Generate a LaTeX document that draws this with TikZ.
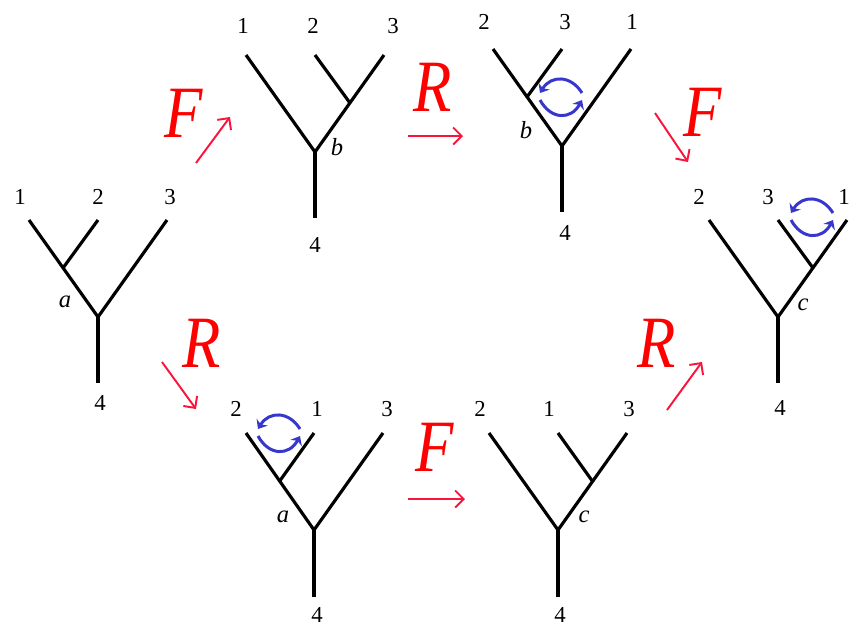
\documentclass[tikz,border=0pt]{standalone}
\usepackage{fontspec}
\setmainfont{Liberation Serif}
\usetikzlibrary{arrows.meta}
\definecolor{swapblue}{RGB}{55,55,205}
\definecolor{oparrow}{RGB}{250,20,60}
\begin{document}
\begin{tikzpicture}[x=0.02cm, y=-0.02cm,
  edge/.style={line width=1.8pt},
  leaf/.style={inner sep=0pt, font=\fontsize{13}{15}\selectfont},
  vtx/.style={inner sep=0pt, font=\fontsize{14}{16}\selectfont\itshape},
  op/.style={inner sep=0pt, text=red, font=\fontsize{42}{44}\selectfont\itshape},
  oparr/.style={draw=oparrow, line width=1.1pt, -{Straight Barb[length=1.7mm,width=3.4mm]}},
  swaparr/.style={draw=swapblue, line width=1.7pt, -{Stealth[length=1.6mm,width=2.6mm]}},
  pics/swap/.style={code={
    \draw[swaparr] (21,-4) .. controls (10,-22) and (-10,-22) .. (-21,-4);
    \draw[swaparr] (-21,3) .. controls (-10,23) and (10,23) .. (21,3);
  }}
]
\useasboundingbox (0,0) rectangle (850,626);

% tree a (left)
\coordinate (t1r) at (98,317);
\coordinate (t1b) at (98,383);
\coordinate (t1i) at (63,268);
\coordinate (t1x) at (29,220);
\coordinate (t1y) at (98,220);
\coordinate (t1z) at (167,220);
\draw[edge] (t1x) -- (t1r) -- (t1z);
\draw[edge] (t1r) -- (t1b);
\draw[edge] (t1i) -- (t1y);
\node[leaf] (t1n1) at (20,197) {1};
\node[leaf] (t1n2) at (98,197) {2};
\node[leaf] (t1n3) at (170,197) {3};
\node[leaf] (t1n4) at (100,403) {4};
\node[vtx] (t1v) at (65,302) {a};

% tree b (top middle)
\coordinate (t2r) at (315,152);
\coordinate (t2b) at (315,218);
\coordinate (t2i) at (350,103);
\coordinate (t2x) at (246,55);
\coordinate (t2y) at (315,55);
\coordinate (t2z) at (384,55);
\draw[edge] (t2x) -- (t2r) -- (t2z);
\draw[edge] (t2r) -- (t2b);
\draw[edge] (t2i) -- (t2y);
\node[leaf] (t2n1) at (243,26) {1};
\node[leaf] (t2n2) at (313,26) {2};
\node[leaf] (t2n3) at (393,26) {3};
\node[leaf] (t2n4) at (315,245) {4};
\node[vtx] (t2v) at (337,147) {b};

% tree b swapped (top right)
\coordinate (t3r) at (562,146);
\coordinate (t3b) at (562,212);
\coordinate (t3i) at (527,97);
\coordinate (t3x) at (493,49);
\coordinate (t3y) at (562,49);
\coordinate (t3z) at (631,49);
\draw[edge] (t3x) -- (t3r) -- (t3z);
\draw[edge] (t3r) -- (t3b);
\draw[edge] (t3i) -- (t3y);
\node[leaf] (t3n2) at (484,22) {2};
\node[leaf] (t3n3) at (565,22) {3};
\node[leaf] (t3n1) at (632,22) {1};
\node[leaf] (t3n4) at (565,233) {4};
\node[vtx] (t3v) at (526,130) {b};
\pic at (561,97) {swap};

% tree c (right)
\coordinate (t4r) at (778,317);
\coordinate (t4b) at (778,383);
\coordinate (t4i) at (813,268);
\coordinate (t4x) at (709,220);
\coordinate (t4y) at (778,220);
\coordinate (t4z) at (847,220);
\draw[edge] (t4x) -- (t4r) -- (t4z);
\draw[edge] (t4r) -- (t4b);
\draw[edge] (t4i) -- (t4y);
\node[leaf] (t4n2) at (699,197) {2};
\node[leaf] (t4n3) at (768,197) {3};
\node[leaf] (t4n1) at (844,197) {1};
\node[leaf] (t4n4) at (780,408) {4};
\node[vtx] (t4v) at (803,305) {c};
\pic at (812,217) {swap};

% tree a swapped (bottom left)
\coordinate (t5r) at (314,530);
\coordinate (t5b) at (314,597);
\coordinate (t5i) at (279,482);
\coordinate (t5x) at (246,433);
\coordinate (t5y) at (314,433);
\coordinate (t5z) at (383,433);
\draw[edge] (t5x) -- (t5r) -- (t5z);
\draw[edge] (t5r) -- (t5b);
\draw[edge] (t5i) -- (t5y);
\node[leaf] (t5n2) at (236,409) {2};
\node[leaf] (t5n1) at (317,409) {1};
\node[leaf] (t5n3) at (387,409) {3};
\node[leaf] (t5n4) at (317,615) {4};
\node[vtx] (t5v) at (283,517) {a};
\pic at (279,433) {swap};

% tree c (bottom middle)
\coordinate (t6r) at (558,530);
\coordinate (t6b) at (558,597);
\coordinate (t6i) at (593,482);
\coordinate (t6x) at (489,433);
\coordinate (t6y) at (558,433);
\coordinate (t6z) at (627,433);
\draw[edge] (t6x) -- (t6r) -- (t6z);
\draw[edge] (t6r) -- (t6b);
\draw[edge] (t6i) -- (t6y);
\node[leaf] (t6n2) at (480,409) {2};
\node[leaf] (t6n1) at (549,409) {1};
\node[leaf] (t6n3) at (629,409) {3};
\node[leaf] (t6n4) at (560,615) {4};
\node[vtx] (t6v) at (584,517) {c};

% moves
\node[op] (op1) at (184,113) {\scalebox{0.85}[1]{F}};
\coordinate (op1s) at (196,163);
\coordinate (op1e) at (230,117);
\draw[oparr] (op1s) -- (op1e);

\node[op] (op2) at (433,87) {\scalebox{0.85}[1]{R}};
\coordinate (op2s) at (408,136);
\coordinate (op2e) at (463,136);
\draw[oparr] (op2s) -- (op2e);

\node[op] (op3) at (703,112) {\scalebox{0.85}[1]{F}};
\coordinate (op3s) at (655,113);
\coordinate (op3e) at (688,162);
\draw[oparr] (op3s) -- (op3e);

\node[op] (op4) at (202,343) {\scalebox{0.85}[1]{R}};
\coordinate (op4s) at (162,362);
\coordinate (op4e) at (196,409);
\draw[oparr] (op4s) -- (op4e);

\node[op] (op5) at (435,447) {\scalebox{0.85}[1]{F}};
\coordinate (op5s) at (408,499);
\coordinate (op5e) at (465,499);
\draw[oparr] (op5s) -- (op5e);

\node[op] (op6) at (657,343) {\scalebox{0.85}[1]{R}};
\coordinate (op6s) at (667,410);
\coordinate (op6e) at (702,362);
\draw[oparr] (op6s) -- (op6e);
\end{tikzpicture}
\end{document}
